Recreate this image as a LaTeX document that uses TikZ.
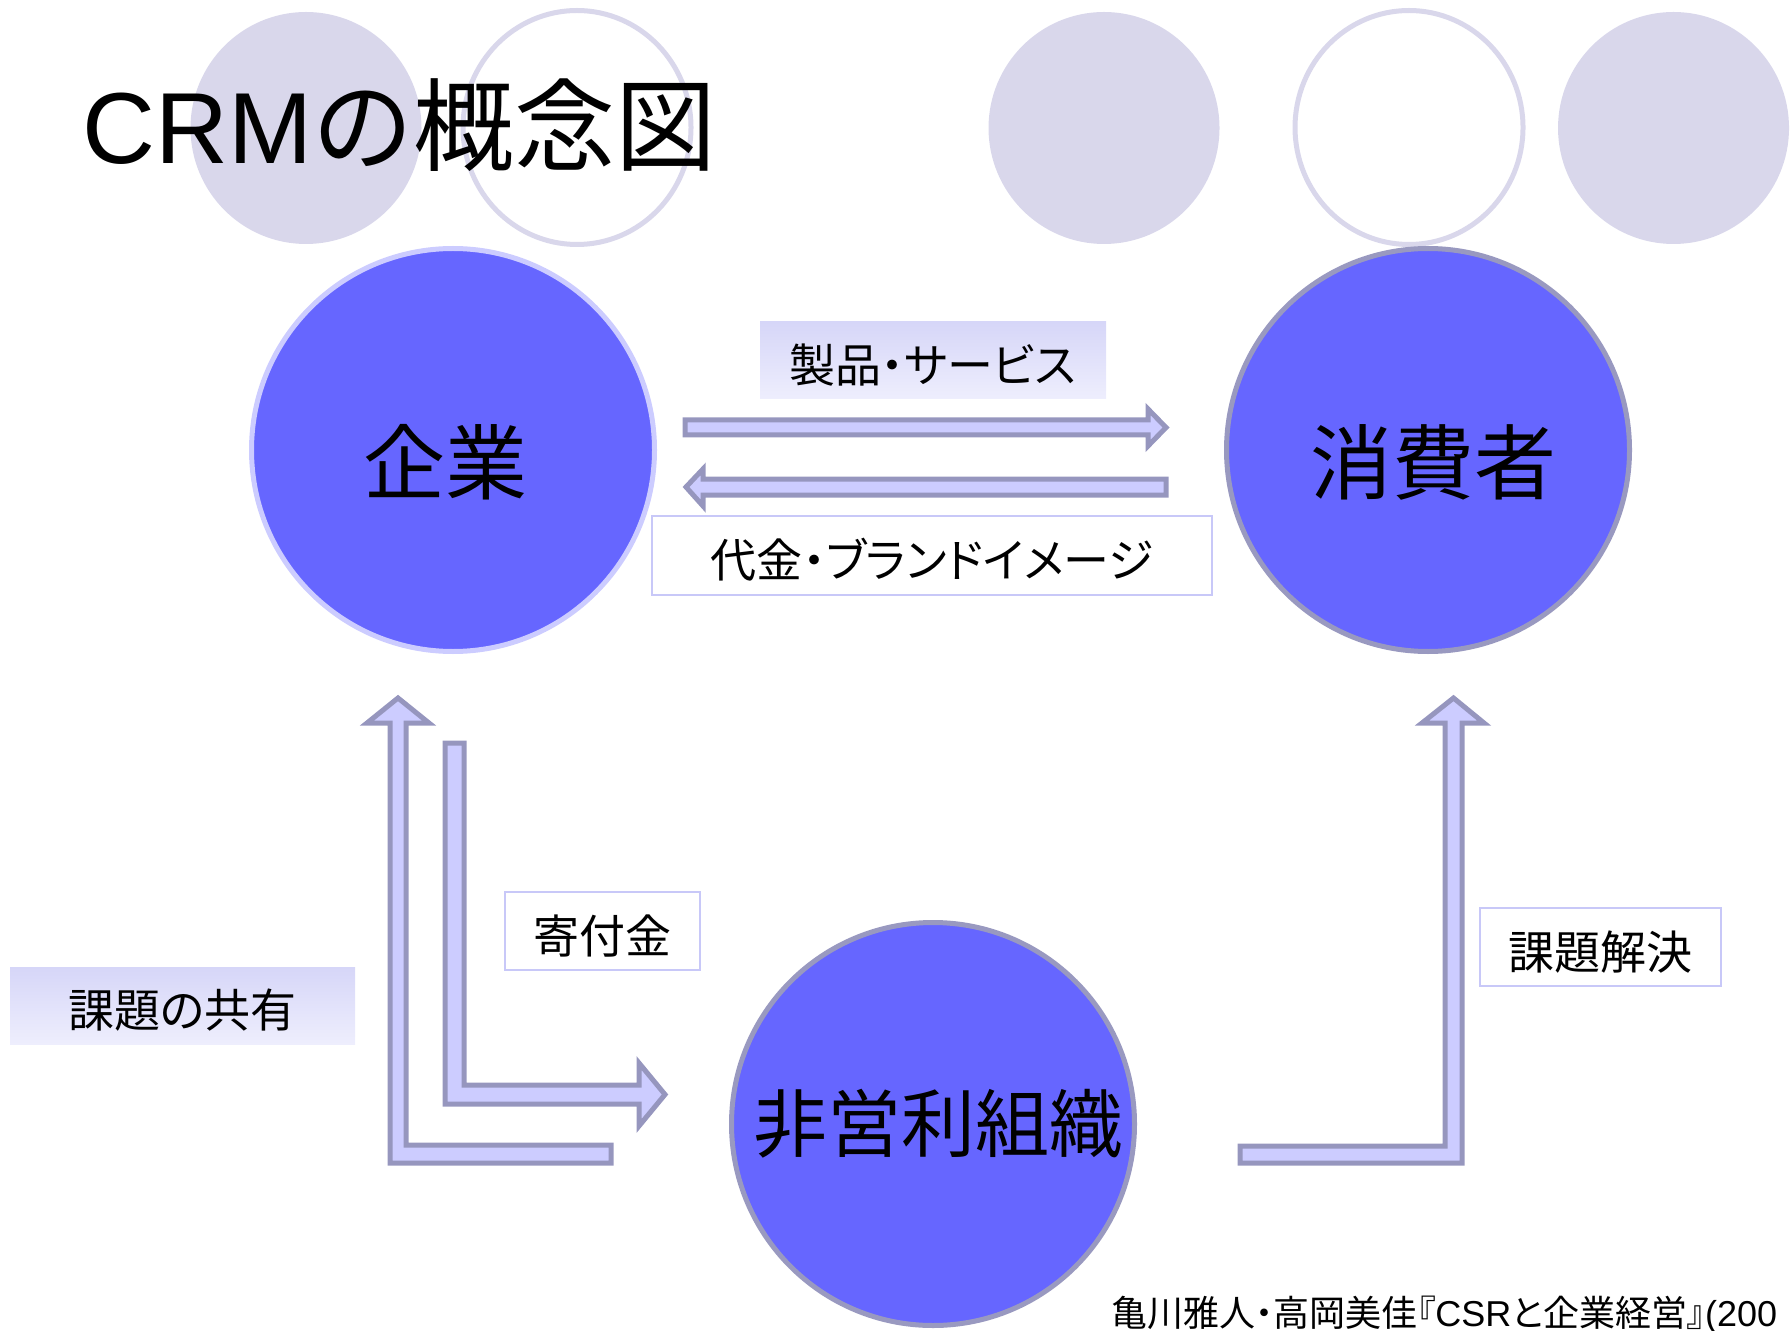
\documentclass[tikz,border=0pt]{standalone}
\usepackage{fontspec}
\setmainfont{Noto Sans CJK JP}
\newfontfamily\jp{Noto Sans CJK JP}
\newfontfamily\jpp{Noto Sans CJK JP}[RawFeature=+palt]
\newfontfamily\lat{Liberation Sans}
\definecolor{deco}{RGB}{217,215,235}
\definecolor{ballfill}{RGB}{102,102,255}
\definecolor{ballline}{RGB}{153,153,192}
\definecolor{balllight}{RGB}{204,204,255}
\definecolor{arrfill}{RGB}{204,204,255}
\definecolor{arrline}{RGB}{150,150,190}
\definecolor{boxline}{RGB}{200,200,248}
\definecolor{gradtop}{RGB}{214,214,248}
\definecolor{gradbot}{RGB}{238,238,253}
\tikzset{
  ball/.style={circle, fill=ballfill, draw=ballline, line width=2.5pt, minimum size=201.5pt, inner sep=0pt},
  balltxt/.style={inner sep=0pt, font=\jp\fontsize{41pt}{41pt}\selectfont},
  decofill/.style={fill=deco},
  decoring/.style={draw=deco, fill=white, line width=2.5pt},
  blockarrow/.style={fill=arrfill, draw=arrline, line width=2.5pt, line join=miter},
  framedlbl/.style={draw=boxline, fill=white, line width=1pt, inner sep=0pt, text height=22.4pt, text depth=0pt, font=\jpp\fontsize{23pt}{23pt}\selectfont},
  shadedlbl/.style={top color=gradtop, bottom color=gradbot, inner sep=0pt, text height=22.4pt, text depth=0pt, font=\jpp\fontsize{23pt}{23pt}\selectfont},
}
\begin{document}
\begin{tikzpicture}[x=0.5pt,y=-0.5pt]
\useasboundingbox (0,0) rectangle (1791,1331);
% decorative circles
\fill[decofill] (306,128) ellipse [x radius=115.5, y radius=116];
\draw[decoring] (577,127.5) ellipse [x radius=114, y radius=117];
\fill[decofill] (1104,128) ellipse [x radius=115.5, y radius=116];
\draw[decoring] (1409,127.5) ellipse [x radius=114, y radius=117];
\fill[decofill] (1673.5,128) ellipse [x radius=115.5, y radius=116];
% title
\node[anchor=west, inner sep=0pt, font=\fontsize{50.5pt}{50.5pt}\selectfont] (title) at (82,125) {{\lat CRM}{\jp の概念図}};
% main circles
\node[ball, draw=balllight] (kigyo) at (453,450) {};
\node[balltxt] (kigyoT) at (445,462) {企業};
\node[ball] (shohi) at (1428,450) {};
\node[balltxt] (shohiT) at (1433,462) {消費者};
\node[ball] (npo) at (933,1124) {};
\node[balltxt, font=\jp\fontsize{37pt}{37pt}\selectfont] (npoT) at (938,1124) {非営利組織};
% straight arrows
\draw[blockarrow] (685,420) -- (1148,420) -- (1148,409) -- (1166,427.5) -- (1148,446) -- (1148,435) -- (685,435) -- cycle;
\draw[blockarrow] (1166,479) -- (703,479) -- (703,469) -- (686,487) -- (703,506) -- (703,495) -- (1166,495) -- cycle;
% bent arrows
\draw[blockarrow] (611,1145) -- (406,1145) -- (406,723) -- (429,723) -- (398,698) -- (367,723) -- (390,723) -- (390,1163) -- (611,1163) -- cycle;
\draw[blockarrow] (445,743) -- (464,743) -- (464,1085) -- (639,1085) -- (639,1063) -- (665,1094.5) -- (639,1126) -- (639,1104) -- (445,1104) -- cycle;
\draw[blockarrow] (1240,1146) -- (1445,1146) -- (1445,723) -- (1422,723) -- (1453.5,698) -- (1484,723) -- (1462,723) -- (1462,1163) -- (1240,1163) -- cycle;
% labels
\node[shadedlbl, minimum width=173pt, minimum height=38.5pt] (lblprod) at (933,360.5) {製品・サービス};
\node[framedlbl, minimum width=280pt, minimum height=39.5pt] (lblpay) at (932,555.5) {代金・ブランドイメージ};
\node[framedlbl, minimum width=97.5pt, minimum height=39pt] (lbldon) at (602.5,931) {寄付金};
\node[shadedlbl, minimum width=172.5pt, minimum height=38.5pt] (lblshare) at (182.5,1005.5) {課題の共有};
\node[framedlbl, minimum width=120.5pt, minimum height=39pt] (lblsolve) at (1600.5,947) {課題解決};
% citation
\node[anchor=west, inner sep=0pt, font=\jpp\fontsize{18pt}{18pt}\selectfont] (cite) at (1111,1315) {亀川雅人・高岡美佳『{\lat CSR}と企業経営』{\lat (200}};
\end{tikzpicture}
\end{document}
